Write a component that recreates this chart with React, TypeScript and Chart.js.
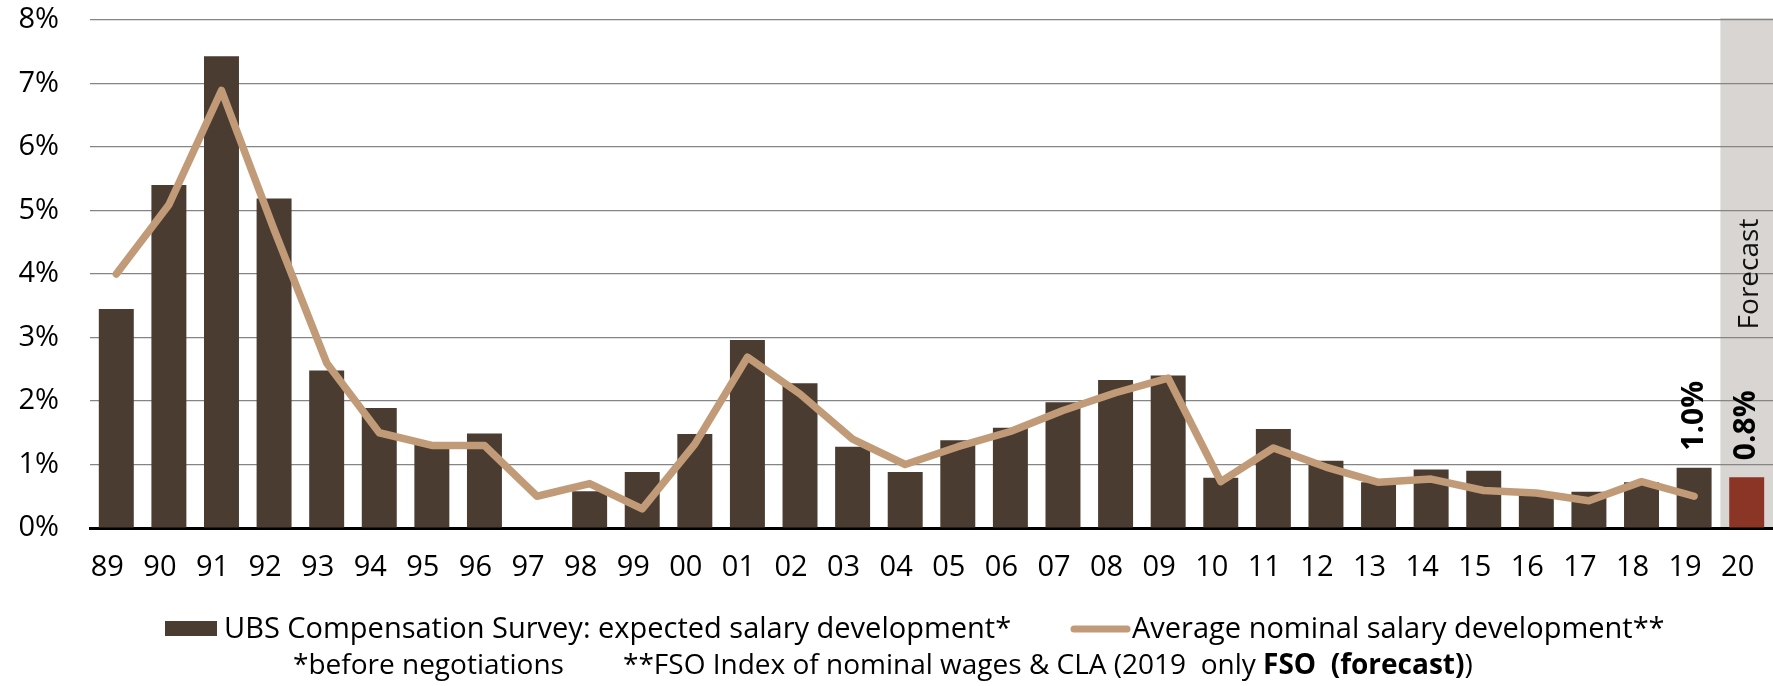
import React, { useEffect, useRef } from "react";
import { Chart, registerables } from "chart.js";

Chart.register(...registerables);

const years = [
  "89", "90", "91", "92", "93", "94", "95", "96", "97", "98", "99",
  "00", "01", "02", "03", "04", "05", "06", "07", "08", "09", "10",
  "11", "12", "13", "14", "15", "16", "17", "18", "19", "20",
];

const surveyValues = [
  3.45, 5.4, 7.43, 5.19, 2.48, 1.89, 1.35, 1.49, 0, 0.58, 0.88,
  1.48, 2.96, 2.28, 1.28, 0.88, 1.38, 1.58, 1.98, 2.33, 2.4, 0.79,
  1.56, 1.06, 0.72, 0.92, 0.9, 0.55, 0.57, 0.72, 0.95, 0.8,
];

const nominalValues = [
  4.0, 5.09, 6.89, 4.7, 2.6, 1.5, 1.3, 1.3, 0.5, 0.7, 0.3,
  1.32, 2.69, 2.11, 1.4, 1.0, 1.28, 1.52, 1.85, 2.13, 2.36, 0.73,
  1.26, 0.96, 0.72, 0.77, 0.59, 0.55, 0.43, 0.73, 0.5, null,
];

const yTicks = [0, 1, 2, 3, 4, 5, 6, 7, 8];

const highlightLabels = [
  { index: 30, text: "1.0%" },
  { index: 31, text: "0.8%" },
];

const forecastIndex = 31;
const forecastText = "Forecast";

const surveyLabel = "UBS Compensation Survey: expected salary development*";
const nominalLabel = "Average nominal salary development**";
const note1 = "*before negotiations";
const note2a = "**FSO Index of nominal wages & CLA (2019  only ";
const note2b = "FSO  (forecast)";
const note2c = ")";

const BAR_COLOR = "#4B3C31";
const FORECAST_BAR_COLOR = "#8B3527";
const LINE_COLOR = "#C19B78";
const BAND_COLOR = "#D9D5D2";
const FONT = "'Open Sans', 'Noto Sans', sans-serif";

export default function App() {
  const canvasRef = useRef<HTMLCanvasElement | null>(null);

  useEffect(() => {
    const canvas = canvasRef.current;
    if (!canvas) return;

    const bandPlugin = {
      id: "forecastBand",
      beforeDraw(chart: any) {
        const { ctx, chartArea } = chart;
        const x = chart.scales.x;
        const half = (x.getPixelForValue(1) - x.getPixelForValue(0)) / 2;
        const left = x.getPixelForValue(forecastIndex) - half;
        ctx.save();
        ctx.fillStyle = BAND_COLOR;
        ctx.fillRect(left, chartArea.top - 2, chartArea.right - left, chartArea.bottom - chartArea.top + 2);
        ctx.restore();
      },
      afterDatasetsDraw(chart: any) {
        const { ctx, chartArea } = chart;
        const x = chart.scales.x;
        const half = (x.getPixelForValue(1) - x.getPixelForValue(0)) / 2;
        const left = x.getPixelForValue(forecastIndex) - half;
        const bandCenter = (left + chartArea.right) / 2;
        ctx.save();
        ctx.translate(bandCenter + 3, (chartArea.top + chartArea.bottom) / 2);
        ctx.rotate(-Math.PI / 2);
        ctx.font = `28px ${FONT}`;
        ctx.fillStyle = "#111";
        ctx.textAlign = "center";
        ctx.textBaseline = "middle";
        ctx.fillText(forecastText, 0, 0);
        ctx.restore();

        const meta = chart.getDatasetMeta(0);
        highlightLabels.forEach((h) => {
          const el = meta.data[h.index];
          if (!el) return;
          ctx.save();
          ctx.translate(el.x, el.y - 17);
          ctx.rotate(-Math.PI / 2);
          ctx.font = `bold 30px ${FONT}`;
          ctx.fillStyle = "#000";
          ctx.textAlign = "left";
          ctx.textBaseline = "middle";
          ctx.fillText(h.text, 0, 0);
          ctx.restore();
        });
      },
      afterDraw(chart: any) {
        const { ctx } = chart;
        const ds = chart.data.datasets;
        ctx.save();
        ctx.font = `29px ${FONT}`;
        ctx.textBaseline = "alphabetic";
        ctx.textAlign = "left";
        ctx.fillStyle = BAR_COLOR;
        ctx.fillRect(165, 621, 52, 15);
        ctx.fillStyle = "#000";
        ctx.fillText(ds[0].label, 224, 638);
        ctx.strokeStyle = LINE_COLOR;
        ctx.lineWidth = 7;
        ctx.lineCap = "round";
        ctx.beginPath();
        ctx.moveTo(1074, 629);
        ctx.lineTo(1127, 629);
        ctx.stroke();
        ctx.fillText(ds[1].label, 1132, 638);

        ctx.font = `28px ${FONT}`;
        ctx.fillText(note1, 293, 674);
        let px = 623;
        ctx.fillText(note2a, px, 674);
        px += ctx.measureText(note2a).width;
        ctx.font = `bold 28px ${FONT}`;
        ctx.fillText(note2b, px, 674);
        px += ctx.measureText(note2b).width;
        ctx.font = `28px ${FONT}`;
        ctx.fillText(note2c, px, 674);
        ctx.restore();
      },
    };

    const chart = new Chart(canvas, {
      type: "bar",
      data: {
        labels: years,
        datasets: [
          {
            type: "bar",
            label: surveyLabel,
            data: surveyValues,
            backgroundColor: surveyValues.map((_, i) =>
              i === forecastIndex ? FORECAST_BAR_COLOR : BAR_COLOR
            ),
            borderWidth: 0,
            barPercentage: 0.665,
            categoryPercentage: 1,
            order: 2,
          },
          {
            type: "line",
            label: nominalLabel,
            data: nominalValues,
            borderColor: LINE_COLOR,
            borderWidth: 7.5,
            borderCapStyle: "round",
            borderJoinStyle: "round",
            pointRadius: 0,
            tension: 0,
            fill: false,
            order: 1,
          } as any,
        ],
      },
      options: {
        animation: false,
        responsive: false,
        maintainAspectRatio: false,
        layout: { padding: { top: 20, left: 0, right: 0, bottom: 0 } },
        plugins: {
          legend: { display: false },
          tooltip: { enabled: false },
        },
        scales: {
          x: {
            grid: {
              display: true,
              drawOnChartArea: false,
              drawTicks: true,
              tickLength: 22,
              tickColor: "rgba(0,0,0,0)",
              color: "rgba(0,0,0,0)",
            },
            border: { display: true, color: "#000", width: 3 },
            ticks: {
              color: "#000",
              font: { family: FONT, size: 29 },
              padding: 0,
              labelOffset: -9,
              maxRotation: 0,
              autoSkip: false,
            },
            afterFit(scale: any) {
              scale.height = 158;
            },
          },
          y: {
            min: 0,
            max: 8,
            afterBuildTicks(scale: any) {
              scale.ticks = yTicks.map((v) => ({ value: v }));
            },
            grid: {
              drawTicks: true,
              tickLength: 31,
              tickColor: "rgba(0,0,0,0)",
              color: (c: any) => (c.tick && c.tick.value === 0 ? "rgba(0,0,0,0)" : "#858585"),
              lineWidth: 1.2,
            },
            border: { display: false },
            ticks: {
              color: "#000",
              font: { family: FONT, size: 29 },
              padding: 0,
              callback: (v: any) => `${v}%`,
            },
            afterFit(scale: any) {
              scale.width = 90;
            },
          },
        },
      },
      plugins: [bandPlugin],
    });

    return () => chart.destroy();
  }, []);

  return (
    <div style={{ position: "absolute", left: 0, top: 0, width: 1773, height: 686, background: "#fff" }}>
      <canvas ref={canvasRef} width={1773} height={686} style={{ width: 1773, height: 686, display: "block" }} />
    </div>
  );
}
